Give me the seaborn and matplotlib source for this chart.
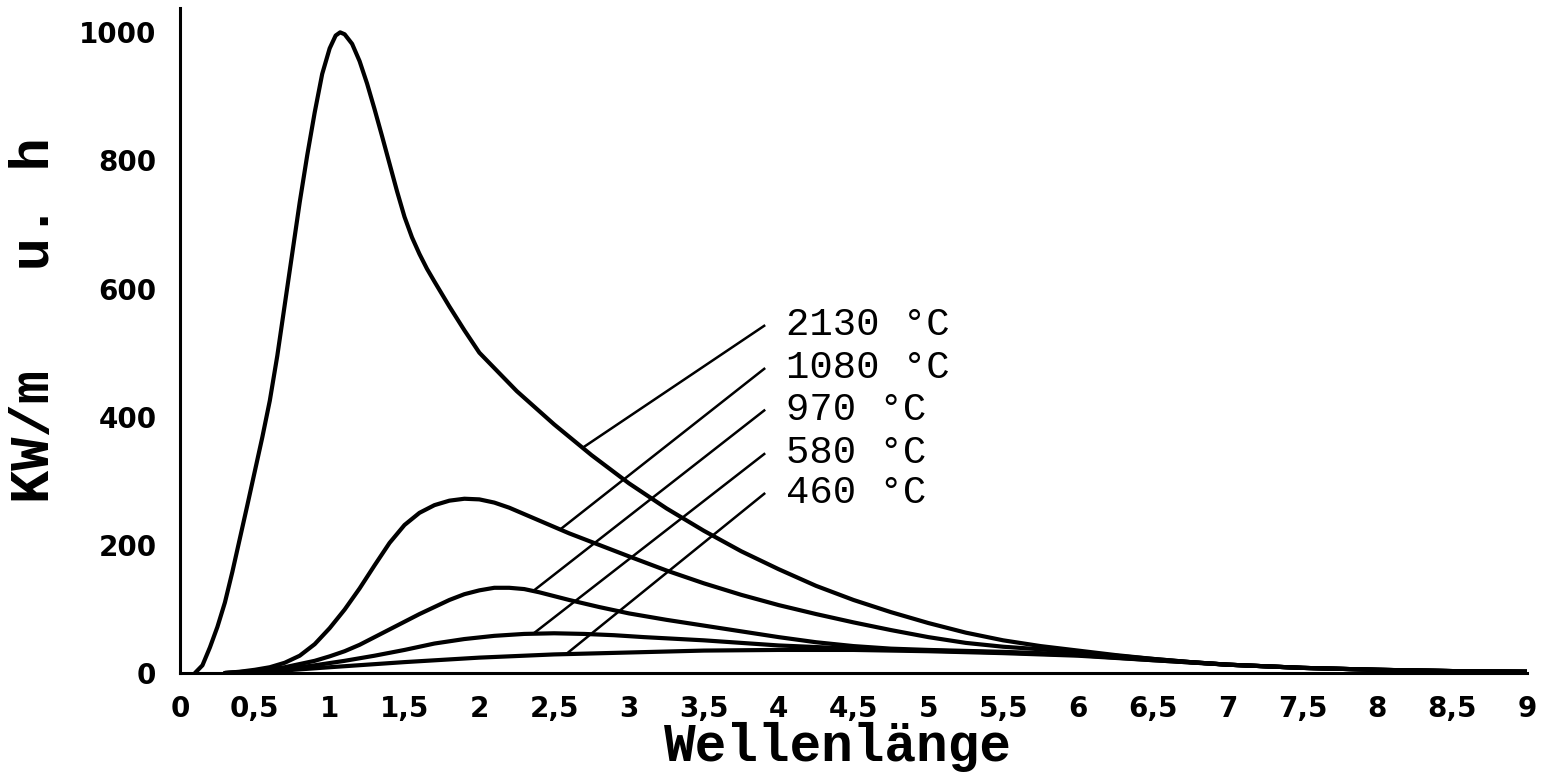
import numpy as np
import pandas as pd
import matplotlib
matplotlib.use("Agg")
import matplotlib.pyplot as plt
import seaborn as sns

# Radiated power per wavelength for five temperatures
x_2130 = [0.10, 0.15, 0.20, 0.25, 0.30, 0.35, 0.40, 0.45, 0.50, 0.55, 0.60, 0.65,
          0.70, 0.75, 0.80, 0.85, 0.90, 0.95, 1.00, 1.04, 1.07, 1.10, 1.15, 1.20,
          1.25, 1.30, 1.35, 1.40, 1.45, 1.50, 1.55, 1.60, 1.65, 1.70, 1.80, 1.90,
          2.00, 2.25, 2.50, 2.75, 3.00, 3.25, 3.50, 3.75, 4.00, 4.25, 4.50, 4.75,
          5.00, 5.25, 5.50, 5.75, 6.00, 6.25, 6.50, 6.75, 7.00, 7.50, 8.00, 8.50, 9.00]
y_2130 = [0, 12, 40, 72, 110, 158, 210, 262, 315, 368, 425, 495,
          575, 655, 735, 808, 875, 935, 975, 995, 1000, 997, 982, 955,
          920, 880, 838, 795, 752, 712, 680, 654, 631, 611, 572, 535,
          500, 440, 388, 340, 296, 257, 222, 190, 162, 136, 114, 95,
          78, 63, 51, 42, 35, 28, 22, 17, 13, 8, 5, 3, 2]

x_1080 = [0.30, 0.40, 0.50, 0.60, 0.70, 0.80, 0.90, 1.00, 1.10, 1.20, 1.30, 1.40,
          1.50, 1.60, 1.70, 1.80, 1.90, 2.00, 2.10, 2.20, 2.30, 2.40, 2.50, 2.60,
          2.80, 3.00, 3.25, 3.50, 3.75, 4.00, 4.25, 4.50, 4.75, 5.00, 5.25, 5.50,
          5.75, 6.00, 6.25, 6.50, 6.75, 7.00, 7.50, 8.00, 8.50, 9.00]
y_1080 = [0, 2, 5, 9, 16, 27, 45, 70, 99, 132, 168, 203,
          231, 250, 262, 269, 272, 271, 266, 258, 248, 238, 228, 218,
          200, 182, 160, 140, 122, 106, 92, 79, 67, 56, 47, 41,
          37, 32, 27, 22, 17, 13, 8, 5, 3, 2]

x_970 = [0.30, 0.50, 0.70, 0.90, 1.00, 1.10, 1.20, 1.30, 1.40, 1.50, 1.60, 1.70,
         1.80, 1.90, 2.00, 2.10, 2.20, 2.30, 2.40, 2.50, 2.60, 2.80, 3.00, 3.25,
         3.50, 3.75, 4.00, 4.25, 4.50, 4.75, 5.00, 5.50, 6.00, 6.50, 7.00, 7.50,
         8.00, 8.50, 9.00]
y_970 = [0, 3, 9, 19, 26, 34, 44, 56, 68, 80, 92, 103,
         114, 123, 129, 133, 133, 131, 126, 120, 114, 103, 93, 83,
         74, 65, 56, 48, 42, 38, 36, 33, 29, 21, 13, 8,
         5, 3, 2]

x_580 = [0.30, 0.50, 0.70, 0.90, 1.10, 1.30, 1.50, 1.70, 1.90, 2.10, 2.30, 2.50,
         2.70, 2.90, 3.10, 3.50, 4.00, 4.50, 5.00, 5.50, 6.00, 6.50, 7.00, 7.50,
         8.00, 8.50, 9.00]
y_580 = [0, 2, 6, 12, 19, 27, 36, 46, 53, 58, 61, 62,
         61, 59, 56, 51, 43, 38, 35, 32, 28, 20, 13, 8,
         5, 3, 2]

x_460 = [0.40, 0.70, 1.00, 1.50, 2.00, 2.50, 3.00, 3.50, 4.00, 4.50, 5.00, 5.50,
         6.00, 6.50, 7.00, 7.50, 8.00, 8.50, 9.00]
y_460 = [0, 4, 9, 17, 24, 29, 32, 35, 36, 36, 34, 31,
         27, 20, 13, 8, 5, 3, 2]

temperatures = ["2130", "1080", "970", "580", "460"]
curve_x = [x_2130, x_1080, x_970, x_580, x_460]
curve_y = [y_2130, y_1080, y_970, y_580, y_460]

x_ticks = [0, 0.5, 1, 1.5, 2, 2.5, 3, 3.5, 4, 4.5, 5, 5.5, 6, 6.5, 7, 7.5, 8, 8.5, 9]
x_tick_labels = ["0", "0,5", "1", "1,5", "2", "2,5", "3", "3,5", "4", "4,5",
                 "5", "5,5", "6", "6,5", "7", "7,5", "8", "8,5", "9"]
y_ticks = [0, 200, 400, 600, 800, 1000]

# Where each leader line meets its curve, and the height of its label
leader_x = [2.69, 2.54, 2.36, 2.36, 2.58]
label_y = [543, 476, 411, 343, 281]
leader_end_x = 3.91
label_x = 4.05

sns.set_theme(style="white")
plt.rcParams["font.family"] = ["DejaVu Sans"]

frames = [pd.DataFrame({"Wellenlaenge": xs, "Leistung": ys, "Temperatur": t})
          for t, xs, ys in zip(temperatures, curve_x, curve_y)]
df = pd.concat(frames, ignore_index=True)

fig = plt.figure(figsize=(15.42, 7.72), dpi=100)
ax = fig.add_axes([180 / 1542, 1 - 673 / 772, (1527 - 180) / 1542, (673 - 8) / 772])

sns.lineplot(data=df, x="Wellenlaenge", y="Leistung", hue="Temperatur",
             hue_order=temperatures, palette=["black"] * len(temperatures),
             estimator=None, linewidth=3.0, legend=False, ax=ax)
for line in ax.get_lines():
    line.set_solid_joinstyle("round")
    line.set_solid_capstyle("round")

# Leader lines from each curve up to its temperature label
for t, xs, ys, lx, ly in zip(temperatures, curve_x, curve_y, leader_x, label_y):
    ax.plot([lx, leader_end_x], [np.interp(lx, xs, ys), ly],
            color="black", lw=1.8, solid_capstyle="butt")
    ax.text(label_x, ly, f"{t} °C", ha="left", va="center", fontsize=28,
            family="Liberation Mono", color="black")

ax.set_xlim(0, 9)
ax.set_ylim(0, 1038)
ax.set_xticks(x_ticks)
ax.set_xticklabels(x_tick_labels)
ax.set_yticks(y_ticks)
ax.set_xlabel("")
ax.set_ylabel("")

for side in ["top", "right"]:
    ax.spines[side].set_visible(False)
for side in ["left", "bottom"]:
    ax.spines[side].set_color("black")
    ax.spines[side].set_linewidth(2.2)

ax.tick_params(axis="x", direction="in", length=6, width=1.6, pad=16,
               labelsize=20, colors="black")
ax.tick_params(axis="y", direction="inout", length=16, width=2.0, pad=9,
               labelsize=20, colors="black")
for lab in ax.get_xticklabels() + ax.get_yticklabels():
    lab.set_fontweight("bold")

fig.text(838 / 1542, 1 - 747 / 772, "Wellenlänge", ha="center", va="center",
         family="Liberation Mono", fontweight="bold", fontsize=38, color="black")
fig.text(35 / 1542, 1 - 320 / 772, "KW/m   u. h", ha="center", va="center",
         rotation=90, family="Liberation Mono", fontweight="bold", fontsize=40,
         color="black")

fig.savefig("out.png", dpi=100, facecolor="white")
